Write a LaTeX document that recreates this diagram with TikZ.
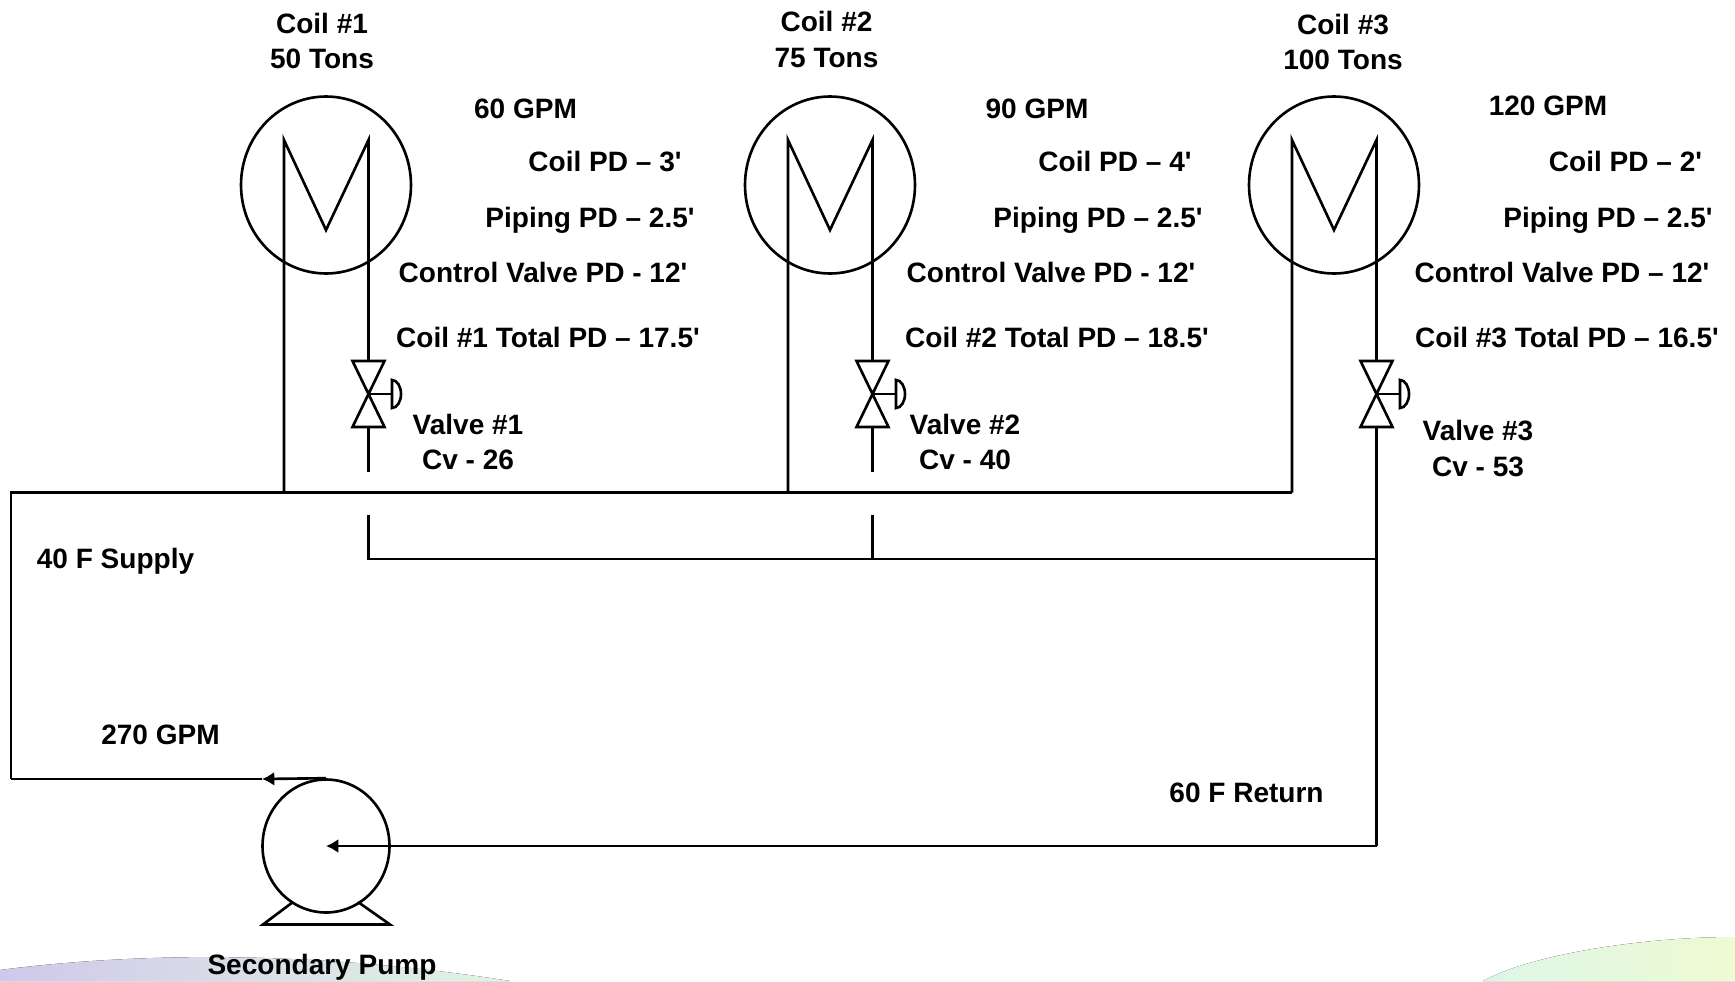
\documentclass[tikz,border=0pt]{standalone}
\usepackage{fontspec}
\setmainfont{Liberation Sans}
\usetikzlibrary{calc,shapes.geometric,arrows.meta}
\definecolor{swooshlilac}{RGB}{208,200,235}
\definecolor{swooshblue}{RGB}{205,220,238}
\definecolor{swooshmint}{RGB}{226,244,226}
\definecolor{swooshgreen}{RGB}{222,246,232}
\definecolor{swooshyellow}{RGB}{238,250,210}
\newcommand{\ft}{\textquotesingle}
\tikzset{
    pipe/.style={line width=1.5pt},
    flow/.style={pipe,-{Latex[length=7pt,width=8pt]}},
    lbl/.style={font=\fontsize{15.95}{20}\selectfont\bfseries,align=center,inner sep=0pt},
    coil/.style={ellipse,draw,line width=1.5pt,minimum width=3.4cm,minimum height=3.54cm,inner sep=0pt},
    pump/.style={ellipse,draw,line width=1.5pt,minimum width=2.54cm,minimum height=2.66cm,inner sep=0pt},
}
\begin{document}
\begin{tikzpicture}[x=.02cm,y=-.02cm]
    \useasboundingbox (0,0) rectangle (1735,981);
    % backdrop
    \fill[left color=swooshlilac,middle color=swooshblue,right color=swooshmint] (0,970) .. controls (100,957) and (280,945) .. (510,981) -- (0,981) -- cycle;
    \fill[left color=swooshgreen,right color=swooshyellow] (1483,981) .. controls (1530,955) and (1640,937) .. (1735,937) -- (1735,981) -- cycle;
    % coils
    \foreach \n/\cx in {1/326,2/830,3/1334} {
        \node[coil] (coil\n) at (\cx,185) {};
        \coordinate (in\n) at (\cx-42,140);
        \coordinate (out\n) at (\cx+42.5,140);
        \coordinate (bend\n) at (\cx,230);
        \coordinate (vtop\n) at (\cx+42.5,361);
        \coordinate (vmid\n) at (\cx+42.5,394);
        \coordinate (vbot\n) at (\cx+42.5,427);
        \coordinate (hdr\n) at (\cx-42,492.5);
        \coordinate (act\n) at (\cx+66,394);
        \draw[pipe,line join=miter] (hdr\n) -- (in\n) -- (bend\n) -- (out\n) -- (vtop\n);
        \draw[pipe,line join=miter] ($(vtop\n)+(-16,0)$) -- ($(vtop\n)+(16,0)$) -- ($(vbot\n)+(-16,0)$) -- ($(vbot\n)+(16,0)$) -- cycle;
        \draw[pipe] (vmid\n) -- (act\n);
        \draw[pipe] ($(act\n)+(0,-14)$) arc[start angle=90,end angle=-90,x radius=.18cm,y radius=.28cm] -- cycle;
    }
    % return side
    \coordinate (stub1) at (368.5,514.5);
    \coordinate (stub2) at (872.5,514.5);
    \coordinate (ret1) at (368.5,559);
    \coordinate (ret2) at (872.5,559);
    \coordinate (ret3) at (1376.5,559);
    \coordinate (end1) at (368.5,472);
    \coordinate (end2) at (872.5,472);
    \coordinate (corner) at (1376.5,846);
    \coordinate (supA) at (11,492.5);
    \coordinate (supB) at (11,779);
    \draw[pipe] (vbot1) -- (end1);
    \draw[pipe] (vbot2) -- (end2);
    \draw[pipe] (stub1) -- (ret1) -- (ret3);
    \draw[pipe] (stub2) -- (ret2);
    \draw[pipe] (vbot3) -- (corner);
    \draw[pipe] (hdr3) -- (supA) -- (supB);
    % pump
    \node[pump] (pump) at (326,846) {};
    \coordinate (pumpc) at (326,846);
    \coordinate (tipA) at (262,779);
    \draw[pipe,line join=miter] (293,902) -- (263,924.5) -- (390,924.5) -- (358,902);
    \draw[flow] (corner) -- (pumpc);
    \draw[flow] (pump.north) -- (tipA);
    \draw[pipe] (tipA) -- (supB);
    % labels
    \node[lbl] (lcoil1) at (322,41) {Coil \#1\\50 Tons};
    \node[lbl] (lcoil2) at (826.5,39.5) {Coil \#2\\75 Tons};
    \node[lbl] (lcoil3) at (1343,42) {Coil \#3\\100 Tons};
    \node[lbl] (gpm1) at (525.5,108.5) {60 GPM};
    \node[lbl] (gpm2) at (1037,108.5) {90 GPM};
    \node[lbl] (gpm3) at (1548,106) {120 GPM};
    \node[lbl] (cpd1) at (605,161.5) {Coil PD – 3\ft};
    \node[lbl] (cpd2) at (1115,161.5) {Coil PD – 4\ft};
    \node[lbl] (cpd3) at (1625.5,161.5) {Coil PD – 2\ft};
    \node[lbl] (ppd1) at (590,220.5) {Piping PD – 2.5\ft};
    \node[lbl] (ppd2) at (1098,220.5) {Piping PD – 2.5\ft};
    \node[lbl] (ppd3) at (1608,220.5) {Piping PD – 2.5\ft};
    \node[lbl] (vpd1) at (543,272) {Control Valve PD - 12\ft};
    \node[lbl] (vpd2) at (1051,272) {Control Valve PD - 12\ft};
    \node[lbl] (vpd3) at (1562,272) {Control Valve PD – 12\ft};
    \node[lbl] (tot1) at (548,337.5) {Coil \#1 Total PD – 17.5\ft};
    \node[lbl] (tot2) at (1057,337.5) {Coil \#2 Total PD – 18.5\ft};
    \node[lbl] (tot3) at (1567,337.5) {Coil \#3 Total PD – 16.5\ft};
    \node[lbl] (val1) at (468,442) {Valve \#1\\Cv - 26};
    \node[lbl] (val2) at (965,442) {Valve \#2\\Cv - 40};
    \node[lbl] (val3) at (1478,448.5) {Valve \#3\\Cv - 53};
    \node[lbl] (sup) at (115.5,561) {40 F Supply};
    \node[lbl] (gpm) at (160.5,735) {270 GPM};
    \node[lbl] (rtn) at (1246.5,793) {60 F Return};
    \node[lbl] (lpump) at (322,967) {Secondary Pump};
\end{tikzpicture}
\end{document}
